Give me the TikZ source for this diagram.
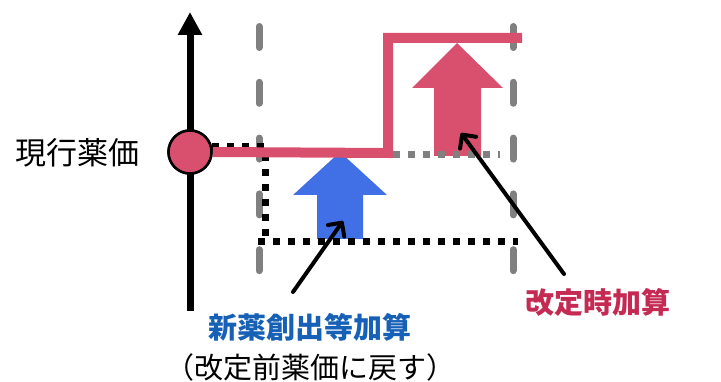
\documentclass[tikz,border=0pt]{standalone}
\usepackage{fontspec}
\setmainfont{Noto Sans CJK JP}
\usepackage{xcolor}
\usepackage{tikz}
\usetikzlibrary{arrows.meta,positioning}

\definecolor{kaitei}{HTML}{D9506F}
\definecolor{kaiteitext}{HTML}{C42A52}
\definecolor{shinyaku}{HTML}{4170E6}
\definecolor{shinyakutext}{HTML}{1660B6}

\tikzset{
  jp/.style={font=\fontsize{29}{32}\selectfont, inner sep=0pt},
  kijun/.style={gray, line width=7pt, line cap=round, dash pattern=on 21pt off 34.8pt},
  tenten/.style={line width=7pt, dash pattern=on 7pt off 8pt},
  yajirushi/.style={line width=4pt, line cap=round, -{Straight Barb[length=10pt, width=20pt, round]}}
}

\begin{document}
\begin{tikzpicture}[x=1pt, y=-1pt]
    \useasboundingbox (0,0) rectangle (721,382);
    % period borders
    \draw[kijun] (259,26.5) -- (259,271);
    \draw[kijun] (513,26.5) -- (513,271);
    % price axis
    \draw[line width=7pt, -{Triangle[length=23pt, width=23pt]}] (190,311) -- (190,12);

    % block arrows
    \fill[shinyaku] (340,152) -- (387,195) -- (363,195) -- (363,239) -- (317,239) -- (317,195) -- (293,195) -- cycle;
    \fill[kaitei] (457,43) -- (503,88) -- (481,88) -- (481,156) -- (434,156) -- (434,88) -- (412,88) -- cycle;

    % dotted guides
    \draw[tenten] (212,147) -- (265,147) -- (265,242);
    \draw[tenten] (258,242) -- (518,242);
    \draw[tenten, gray] (393,155) -- (500,155);

    % price line
    \node[circle, draw, line width=2.5pt, fill=kaitei, minimum size=43pt, inner sep=0pt] (genko) at (190,152) {};
    \draw[kaitei, line width=10pt, miter limit=10] (genko.east) -- (388,153) -- (388,38) -- (522,38);
    \node[circle, draw, line width=2.5pt, fill=kaitei, minimum size=43pt, inner sep=0pt] at (genko) {};

    % labels
    \node[jp, font=\fontsize{31}{34}\selectfont] (genkolabel) at (78,153) {現行薬価};
    \node[jp, font=\fontsize{29}{32}\selectfont\bfseries, text=shinyakutext] (shinyakulabel) at (310,327) {新薬創出等加算};
    \node[jp] (modosu) at (310,367) {（改定前薬価に戻す）};
    \node[jp, font=\fontsize{29}{32}\selectfont\bfseries, text=kaiteitext] (kaiteilabel) at (598,302) {改定時加算};

    % pointers
    \coordinate (shinyakufoot) at (293,292);
    \coordinate (shinyakutip) at (343,221);
    \coordinate (kaiteifoot) at (564,274);
    \coordinate (kaiteitip) at (461,133);
    \draw[yajirushi] (shinyakufoot) -- (shinyakutip);
    \draw[yajirushi] (kaiteifoot) -- (kaiteitip);
\end{tikzpicture}
\end{document}
